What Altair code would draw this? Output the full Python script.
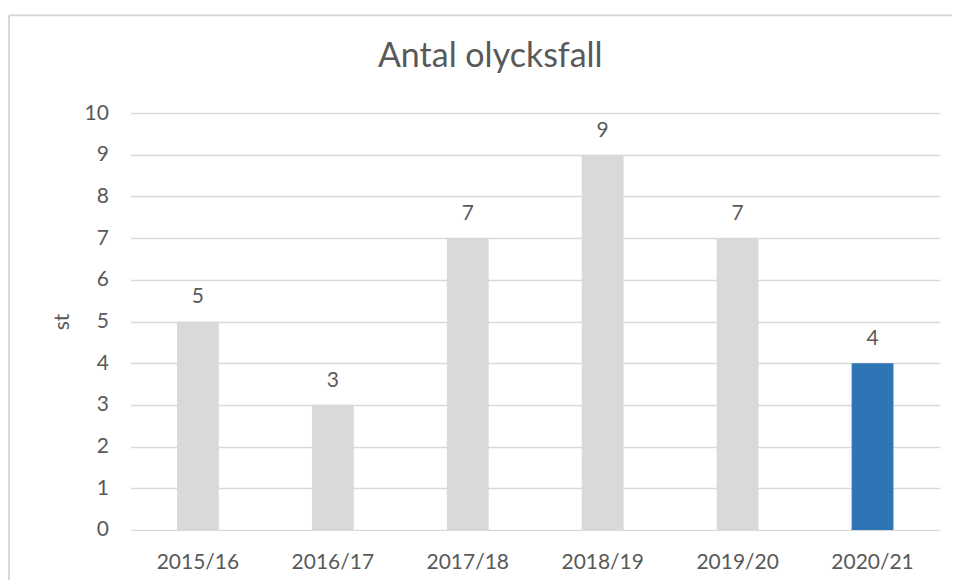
import altair as alt
import pandas as pd

years = ["2015/16", "2016/17", "2017/18", "2018/19", "2019/20", "2020/21"]
counts = [5, 3, 7, 9, 7, 4]
highlight = [False, False, False, False, False, True]

df = pd.DataFrame({"year": years, "count": counts, "hl": highlight})

FONT = "Lato"
TXT = "#595959"
GRID = "#d9d9d9"

base = alt.Chart(df)

bars = base.mark_bar().encode(
    x=alt.X("year:N", sort=years, title=None,
            scale=alt.Scale(paddingInner=0.69, paddingOuter=0.345),
            axis=alt.Axis(labelAngle=0, labelFontSize=21, labelFont=FONT, labelColor=TXT,
                          ticks=False, domain=False, labelPadding=22)),
    y=alt.Y("count:Q", title="st",
            scale=alt.Scale(domain=[0, 10], nice=False),
            axis=alt.Axis(values=list(range(11)), labelFontSize=21, labelFont=FONT,
                          labelColor=TXT, ticks=False, domain=False, labelPadding=22,
                          gridColor=GRID, gridWidth=1.5,
                          titleFont=FONT, titleFontSize=21, titleColor=TXT,
                          titleFontWeight="normal", titlePadding=12)),
    color=alt.Color("hl:N", scale=alt.Scale(domain=[False, True], range=["#d9d9d9", "#2e75b6"]),
                    legend=None),
)

labels = base.mark_text(font=FONT, fontSize=21, color=TXT, baseline="alphabetic", dy=-18).encode(
    x=alt.X("year:N", sort=years),
    y="count:Q",
    text="count:Q",
)

frame = pd.DataFrame({"k": [0]})
left_border = alt.Chart(frame).mark_rule(color=GRID, strokeWidth=2).encode(
    x=alt.value(-121.5), y=alt.value(-98), y2=alt.value(480)
)
top_border = alt.Chart(frame).mark_rule(color=GRID, strokeWidth=2).encode(
    x=alt.value(-121.5), x2=alt.value(830), y=alt.value(-98)
)

chart = alt.layer(left_border, top_border, bars, labels).properties(
    width=810, height=417,
    padding={"left": 122.5, "top": 105, "right": 12, "bottom": 50},
    autosize=alt.AutoSizeParams(type="none"),
    title=alt.TitleParams("Antal olycksfall", font=FONT, fontSize=34, color=TXT,
                          fontWeight="normal", dx=-45, offset=0, dy=87,
                          baseline="alphabetic", anchor="middle"),
).configure_view(stroke=None)

chart.save("out.html", embed_options={"renderer": "svg", "actions": False})
